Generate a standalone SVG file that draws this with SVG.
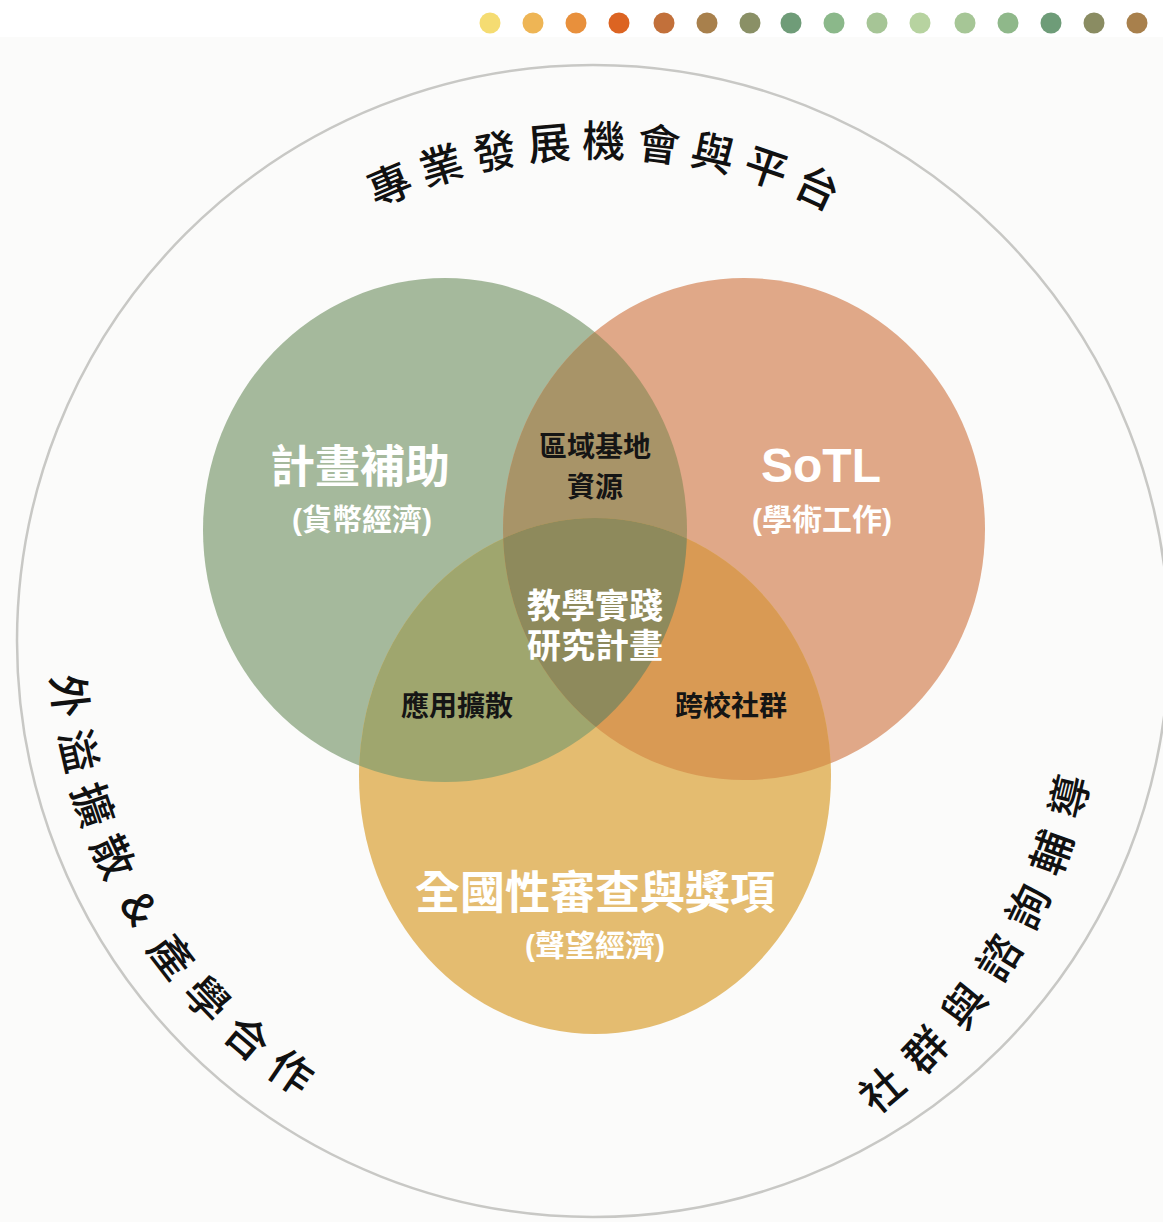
<svg xmlns="http://www.w3.org/2000/svg" width="1163" height="1222" viewBox="0 0 1163 1222">
  <style>
    .arc { font-family: "Noto Sans CJK TC", sans-serif; font-size: 43px; fill: #111; font-weight: 500; }
    .wt { font-family: "Liberation Sans", "Noto Sans CJK TC", sans-serif; fill: #ffffff; font-weight: 700; text-anchor: middle; }
    .bk { font-family: "Noto Sans CJK TC", sans-serif; fill: #151515; font-weight: 700; text-anchor: middle; font-size: 28px; }
    .dot { stroke: none; }
  </style>
  <defs>
    <clipPath id="clipG"><ellipse cx="445" cy="530" rx="242" ry="252"/></clipPath>
    <clipPath id="clipO"><ellipse cx="744" cy="529" rx="241" ry="251"/></clipPath>
    <path id="arcTop" d="M120.1,490.5 A512,512 0 0 1 1082.4,497.2" fill="none"/>
    <path id="arcLeft" d="M121.2,374.1 A542,542 0 0 0 597.7,1183.0" fill="none"/>
    <path id="arcRight" d="M500.3,1232.4 A577,577 0 0 0 1038.0,390.1" fill="none"/>
  </defs>

  <rect x="0" y="0" width="1163" height="1222" fill="#fbfbfa"/>
  <rect x="0" y="0" width="1163" height="37" fill="#ffffff"/>

  <g id="palette-dots">
    <circle class="dot" cx="490" cy="23" r="10.5" fill="#f5dc72"/>
    <circle class="dot" cx="533" cy="23" r="10.5" fill="#eeb555"/>
    <circle class="dot" cx="576" cy="23" r="10.5" fill="#e8903c"/>
    <circle class="dot" cx="619" cy="23" r="10.5" fill="#dc6422"/>
    <circle class="dot" cx="664" cy="23" r="10.5" fill="#c2703a"/>
    <circle class="dot" cx="707" cy="23" r="10.5" fill="#a8804c"/>
    <circle class="dot" cx="750" cy="23" r="10.5" fill="#8a9066"/>
    <circle class="dot" cx="791" cy="23" r="10.5" fill="#6f9c78"/>
    <circle class="dot" cx="834" cy="23" r="10.5" fill="#8bb88a"/>
    <circle class="dot" cx="877" cy="23" r="10.5" fill="#a6c596"/>
    <circle class="dot" cx="920" cy="23" r="10.5" fill="#b7d3a0"/>
    <circle class="dot" cx="965" cy="23" r="10.5" fill="#a6c696"/>
    <circle class="dot" cx="1008" cy="23" r="10.5" fill="#8fb88a"/>
    <circle class="dot" cx="1051" cy="23" r="10.5" fill="#6e9c78"/>
    <circle class="dot" cx="1094" cy="23" r="10.5" fill="#8a8c62"/>
    <circle class="dot" cx="1137" cy="23" r="10.5" fill="#a8804c"/>
  </g>

  <g id="outer-ring">
    <circle cx="593" cy="641" r="576" fill="none" stroke="#c8c8c5" stroke-width="2.5"/>
    <text class="arc" letter-spacing="10.4"><textPath href="#arcTop" startOffset="630.7" text-anchor="middle">專業發展機會與平台</textPath></text>
    <text class="arc" letter-spacing="14.5" word-spacing="-16"><textPath href="#arcLeft" startOffset="574.8" text-anchor="middle">外溢擴散 &amp; 產學合作</textPath></text>
    <text class="arc" letter-spacing="17.6"><textPath href="#arcRight" startOffset="613.1" text-anchor="middle">社群與諮詢輔導</textPath></text>
  </g>

  <g id="node-funding">
    <ellipse cx="445" cy="530" rx="242" ry="252" fill="#a5b99c"/>
  </g>
  <g id="node-sotl">
    <ellipse cx="744" cy="529" rx="241" ry="251" fill="#e0a888"/>
  </g>
  <g id="node-national">
    <ellipse cx="595" cy="776" rx="236" ry="258" fill="#e4bc70"/>
  </g>

  <g id="overlaps">
    <ellipse cx="744" cy="529" rx="241" ry="251" fill="#a89468" clip-path="url(#clipG)"/>
    <ellipse cx="595" cy="776" rx="236" ry="258" fill="#9fa66e" clip-path="url(#clipG)"/>
    <ellipse cx="595" cy="776" rx="236" ry="258" fill="#d99a54" clip-path="url(#clipO)"/>
    <g clip-path="url(#clipG)">
      <ellipse cx="595" cy="776" rx="236" ry="258" fill="#8e8a5c" clip-path="url(#clipO)"/>
    </g>
  </g>

  <g id="labels">
    <text class="wt" x="360" y="483" font-size="45">計畫補助</text>
    <text class="wt" x="362" y="530" font-size="30">(貨幣經濟)</text>
    <text class="wt" x="821" y="482" font-size="48">SoTL</text>
    <text class="wt" x="822" y="530" font-size="30">(學術工作)</text>
    <text class="bk" x="595" y="457">區域基地</text>
    <text class="bk" x="595" y="497">資源</text>
    <text class="wt" x="595" y="618" font-size="34">教學實踐</text>
    <text class="wt" x="595" y="658" font-size="34">研究計畫</text>
    <text class="bk" x="457" y="716">應用擴散</text>
    <text class="bk" x="731" y="716">跨校社群</text>
    <text class="wt" x="595" y="909" font-size="45">全國性審查與獎項</text>
    <text class="wt" x="595" y="956" font-size="30">(聲望經濟)</text>
  </g>
</svg>
